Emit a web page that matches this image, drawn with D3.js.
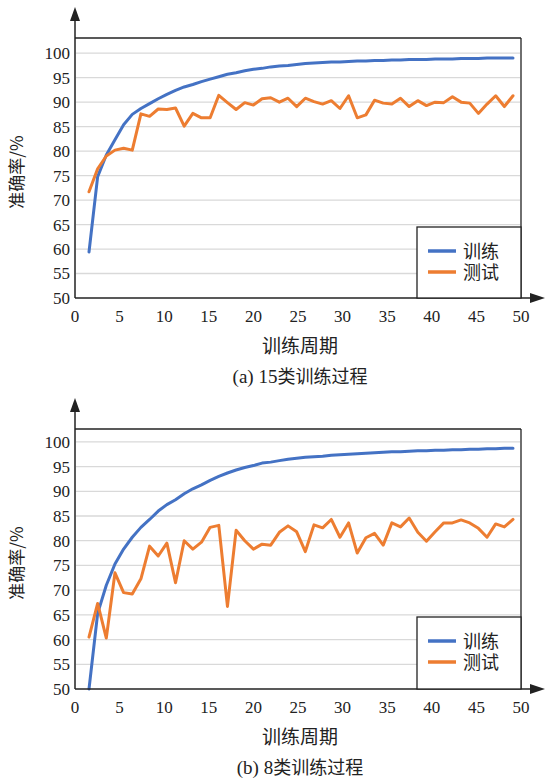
<!DOCTYPE html>
<html><head><meta charset="utf-8">
<script src="https://cdn.jsdelivr.net/npm/d3@7"></script>
<style>
html,body{margin:0;padding:0;background:#fff;}
</style></head>
<body>
<svg id="chart" width="545" height="778"></svg>
<script>
// ---- data ----
const epochs = d3.range(1, 51);
const xTicks = [0,5,10,15,20,25,30,35,40,45,50];
const yTicks = [50,55,60,65,70,75,80,85,90,95,100];
const seriesNames = ["训练","测试"];
const train15 = [59.4,74.8,79.2,82.3,85.4,87.5,88.7,89.7,90.7,91.6,92.4,93.1,93.6,94.2,94.7,95.2,95.7,96.0,96.4,96.7,96.9,97.2,97.4,97.5,97.7,97.9,98.0,98.1,98.2,98.2,98.3,98.4,98.4,98.5,98.5,98.6,98.6,98.7,98.7,98.7,98.8,98.8,98.8,98.9,98.9,98.9,99.0,99.0,99.0,99.0];
const test15 = [71.7,76.4,79.0,80.2,80.6,80.2,87.6,87.1,88.6,88.5,88.8,85.1,87.7,86.8,86.8,91.4,89.9,88.5,89.9,89.4,90.7,90.9,90.0,90.8,89.1,90.8,90.1,89.6,90.3,88.7,91.3,86.8,87.4,90.4,89.8,89.6,90.8,89.1,90.3,89.3,90.0,89.9,91.1,90.0,89.8,87.7,89.6,91.3,89.1,91.3];
const train8 = [50.0,65.3,71.0,75.3,78.3,80.7,82.7,84.3,86.0,87.3,88.3,89.5,90.5,91.3,92.2,93.0,93.7,94.3,94.8,95.2,95.7,95.9,96.2,96.5,96.7,96.9,97.0,97.1,97.3,97.4,97.5,97.6,97.7,97.8,97.9,98.0,98.0,98.1,98.2,98.2,98.3,98.3,98.4,98.4,98.5,98.5,98.6,98.6,98.7,98.7];
const test8 = [60.5,67.3,60.3,73.5,69.5,69.2,72.3,78.9,76.9,79.5,71.5,80.0,78.3,79.7,82.7,83.1,66.7,82.1,80.0,78.3,79.3,79.1,81.7,83.0,81.8,77.8,83.2,82.6,84.3,80.7,83.6,77.5,80.6,81.5,79.1,83.6,82.8,84.6,81.7,79.9,81.8,83.6,83.6,84.2,83.6,82.5,80.7,83.4,82.8,84.3];
const panels = [
  {train: train15, test: test15, caption: "(a) 15类训练过程", top: 38, axisY: 298, yMax: 103.1, legendTop: 227},
  {train: train8, test: test8, caption: "(b) 8类训练过程", top: 429, axisY: 689, yMax: 102.6, legendTop: 617}
];
const colors = ["#4472C4", "#ED7D31"];
const SERIF = "'Liberation Serif','Times New Roman','DejaVu Serif',serif";
const CJK = "'Noto Sans CJK SC','Noto Sans CJK JP',sans-serif";
const MIXED = "'Liberation Serif','Noto Sans CJK SC','Noto Sans CJK JP',serif";

const svg = d3.select("#chart");
const X0 = 75, X1 = 521;

panels.forEach(p => {
  const g = svg.append("g");
  const xAxisScale = d3.scaleLinear().domain([0, 50]).range([X0, X1]);
  const xData = d3.scaleLinear().domain([1, 50]).range([89, 513]);
  const y = d3.scaleLinear().domain([50, p.yMax]).range([p.axisY, p.top]);

  // gridlines
  g.selectAll("line.grid").data(yTicks.filter(v => v > 50)).enter().append("line")
    .attr("x1", X0 + 1).attr("x2", X1 - 1)
    .attr("y1", d => y(d)).attr("y2", d => y(d))
    .attr("stroke", "#d9d9d9").attr("stroke-width", 1.3);

  // plot border top & right
  g.append("line").attr("x1", X0).attr("x2", X1).attr("y1", y(p.yMax)).attr("y2", y(p.yMax))
    .attr("stroke", "#222").attr("stroke-width", 1.3);
  g.append("line").attr("x1", X1).attr("x2", X1).attr("y1", y(p.yMax)).attr("y2", y(50))
    .attr("stroke", "#222").attr("stroke-width", 1.3);

  // lines
  const line = d3.line().x((d, i) => xData(epochs[i])).y(d => y(d));
  [p.train, p.test].forEach((s, k) => {
    g.append("path").datum(s).attr("d", line).attr("fill", "none")
      .attr("stroke", colors[k]).attr("stroke-width", 3)
      .attr("stroke-linejoin", "round").attr("stroke-linecap", "round");
  });

  // axes with arrows
  g.append("line").attr("x1", X0).attr("x2", X0).attr("y1", p.axisY).attr("y2", p.top - 22)
    .attr("stroke", "#222").attr("stroke-width", 1.5);
  const tipY = p.top - 31;
  g.append("path").attr("d", `M${X0},${tipY} L${X0-5},${tipY+14} L${X0+5},${tipY+14} Z`).attr("fill", "#222");
  g.append("line").attr("x1", X0).attr("x2", 532).attr("y1", p.axisY).attr("y2", p.axisY)
    .attr("stroke", "#222").attr("stroke-width", 1.5);
  g.append("path").attr("d", `M545,${p.axisY} L530,${p.axisY-5} L530,${p.axisY+5} Z`).attr("fill", "#222");

  // y tick labels
  g.selectAll("text.yt").data(yTicks).enter().append("text")
    .attr("x", 70).attr("y", d => y(d)).attr("dy", "0.35em")
    .attr("text-anchor", "end").attr("font-size", 17).attr("fill", "#222")
    .attr("font-family", SERIF).style("font-family", SERIF)
    .text(d => d);
  // x tick labels
  g.selectAll("text.xt").data(xTicks).enter().append("text")
    .attr("x", d => xAxisScale(d)).attr("y", p.axisY + 24)
    .attr("text-anchor", "middle").attr("font-size", 17).attr("fill", "#222")
    .attr("font-family", SERIF).style("font-family", SERIF)
    .text(d => d);

  // y title
  g.append("text").style("font-family", CJK)
    .attr("transform", `translate(23,${(p.top + p.axisY) / 2 + 4}) rotate(-90)`)
    .attr("text-anchor", "middle").attr("font-size", 17).attr("fill", "#222")
    .text("准确率/%");
  // x title
  g.append("text").style("font-family", CJK).attr("x", 300).attr("y", p.axisY + 55)
    .attr("text-anchor", "middle").attr("font-size", 19).attr("fill", "#222")
    .text("训练周期");
  // caption
  const cap = g.append("text").attr("x", 300).attr("y", p.axisY + 85)
    .attr("text-anchor", "middle").attr("font-size", 19).attr("fill", "#222")
    .style("font-family", SERIF);
  const m = p.caption.match(/^(\(\w\) \d+)(.*)$/);
  cap.append("tspan").text(m[1]);
  cap.append("tspan").style("font-family", CJK).attr("font-size", 18).text(m[2]);

  // legend
  const lx = 417, lw = X1 - lx;
  g.append("rect").attr("x", lx).attr("y", p.legendTop).attr("width", lw).attr("height", p.axisY - p.legendTop)
    .attr("fill", "#fff").attr("stroke", "#222").attr("stroke-width", 1.3);
  seriesNames.forEach((n, k) => {
    const yy = p.legendTop + 24 + k * 21;
    g.append("line").attr("x1", lx + 11).attr("x2", lx + 39).attr("y1", yy).attr("y2", yy)
      .attr("stroke", colors[k]).attr("stroke-width", 3.5);
    g.append("text").style("font-family", MIXED).attr("font-size", 18).attr("fill", "#222")
      .attr("x", lx + 46).attr("y", yy + 6.5).text(n);
  });
});
</script>
</body></html>
